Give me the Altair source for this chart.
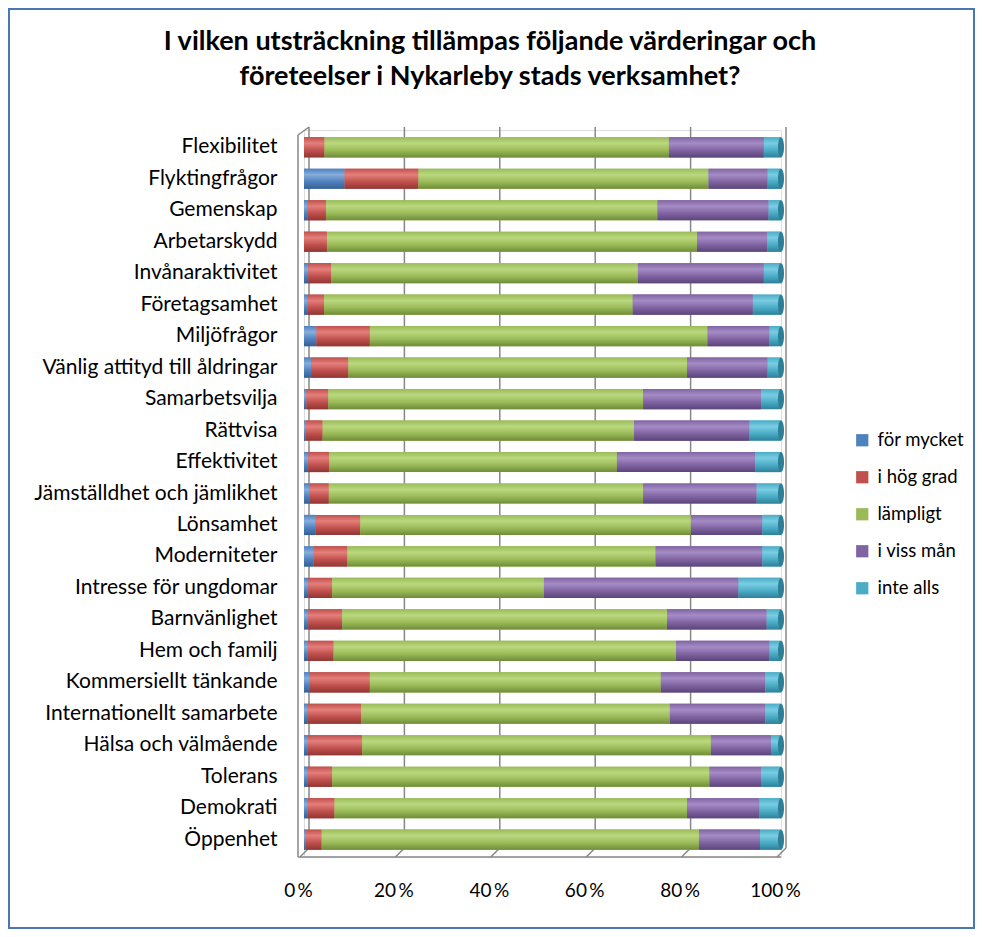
import altair as alt
import pandas as pd

categories = [
    "Flexibilitet", "Flyktingfrågor", "Gemenskap", "Arbetarskydd",
    "Invånaraktivitet", "Företagsamhet", "Miljöfrågor",
    "Vänlig attityd till åldringar", "Samarbetsvilja", "Rättvisa",
    "Effektivitet", "Jämställdhet och jämlikhet", "Lönsamhet",
    "Moderniteter", "Intresse för ungdomar", "Barnvänlighet",
    "Hem och familj", "Kommersiellt tänkande", "Internationellt samarbete",
    "Hälsa och välmående", "Tolerans", "Demokrati", "Öppenhet",
]
responses = ["för mycket", "i hög grad", "lämpligt", "i viss mån", "inte alls"]

for_mycket = [0.0, 8.5, 0.7, 0.0, 0.9, 0.8, 2.6, 1.5, 0.5, 0.3, 0.9, 1.2,
              2.4, 2.0, 0.9, 0.9, 0.8, 1.2, 0.7, 0.8, 0.8, 0.8, 0.3]
i_hog_grad = [4.3, 15.5, 3.9, 4.8, 4.8, 3.4, 11.2, 7.8, 4.6, 3.6, 4.4, 4.0,
              9.4, 7.1, 5.0, 7.1, 5.4, 12.6, 11.3, 11.4, 5.1, 5.6, 3.4]
lampligt = [72.2, 60.8, 69.5, 77.6, 64.3, 64.7, 70.8, 71.0, 66.0, 65.3, 60.3,
            65.9, 69.3, 64.6, 44.4, 68.1, 71.8, 61.0, 64.7, 73.1, 79.1, 73.9, 79.1]
i_viss_man = [19.9, 12.4, 23.3, 14.7, 26.4, 25.2, 13.0, 16.9, 24.7, 24.2, 29.0,
              23.8, 15.0, 22.4, 40.8, 20.9, 19.6, 21.9, 20.0, 12.6, 10.8, 15.2, 12.8]
inte_alls = [3.6, 2.8, 2.6, 2.9, 3.6, 5.9, 2.4, 2.8, 4.2, 6.6, 5.4, 5.1,
             3.9, 3.9, 8.9, 3.0, 2.4, 3.3, 3.3, 2.1, 4.2, 4.5, 4.4]

tick_values = [0, 20, 40, 60, 80, 100]
title_lines = ["I vilken utsträckning tillämpas följande värderingar och",
               "företeelser i Nykarleby stads verksamhet?"]

base_colors = ["#4F81BD", "#C0504D", "#9BBB59", "#8064A2", "#4BACC6"]
light_colors = ["#86ADDE", "#E47F7B", "#BAD87E", "#A58CC6", "#7ACDE2"]
dark_colors = ["#355F93", "#913633", "#6F8C38", "#5B4579", "#2E8199"]

series = [for_mycket, i_hog_grad, lampligt, i_viss_man, inte_alls]
rows = []
for ri, (resp, vals) in enumerate(zip(responses, series)):
    for ci, cat in enumerate(categories):
        rows.append({"kategori": cat, "svar": resp, "ordning": ri, "varde": vals[ci]})
df = pd.DataFrame(rows)
ticks_df = pd.DataFrame({"t": tick_values})
cat_df = pd.DataFrame({"kategori": categories, "slut": [100] * len(categories)})
one_df = pd.DataFrame({"t": [0]})

W, H = 477, 727
GRID = "#878787"
FONT = "Lato"

xscale = alt.Scale(domain=[0, 100], nice=False, zero=True)
yscale = alt.Scale(domain=categories, paddingInner=0.36, paddingOuter=0.23)

x_axis = alt.Axis(title=None, values=tick_values, grid=False, domain=False,
                  ticks=False, labelPadding=24, labelFont=FONT, labelFlush=False,
                  labelFontSize=19, labelColor="#000000", labelOffset=-6,
                  labelExpr="datum.value + '\u2009%'")
y_axis = alt.Axis(title=None, domain=False, ticks=False, labelPadding=27,
                  labelFont=FONT, labelFontSize=21, labelColor="#000000",
                  labelLimit=400)

# Background frame of the 3D plot
back_grid = alt.Chart(ticks_df).mark_rule(color=GRID, strokeWidth=1.5, xOffset=5).encode(
    x=alt.X("t:Q", scale=xscale, axis=x_axis),
    y=alt.value(-3), y2=alt.value(H - 9),
)
floor_diag = alt.Chart(ticks_df).mark_rule(color=GRID, strokeWidth=1.5, xOffset=-4, x2Offset=5).encode(
    x=alt.X("t:Q", scale=xscale), x2="t:Q",
    y=alt.value(H), y2=alt.value(H - 9),
)
front_left = alt.Chart(one_df).mark_rule(
    color=GRID, strokeWidth=1.5, xOffset=-6, x2Offset=5
).encode(
    x=alt.X("t:Q", scale=xscale), x2="t:Q",
    y=alt.value(5), y2=alt.value(-3),
)
front_left_v = alt.Chart(one_df).mark_rule(
    color=GRID, strokeWidth=1.5, xOffset=-6
).encode(
    x=alt.X("t:Q", scale=xscale),
    y=alt.value(5), y2=alt.value(H),
)
front_floor = alt.Chart(one_df).mark_rule(
    color=GRID, strokeWidth=1.5, xOffset=-6
).encode(
    x=alt.X("t:Q", scale=xscale),
    x2=alt.datum(100),
    y=alt.value(H),
)

stacked = alt.Chart(df).transform_stack(
    stack="varde", groupby=["kategori"], as_=["x0", "x1"],
    sort=[alt.SortField("ordning", order="ascending")],
)

# Flat base layer (drives the legend)
base_bars = stacked.mark_bar(strokeWidth=0).encode(
    y=alt.Y("kategori:N", scale=yscale, sort=categories, axis=y_axis),
    x=alt.X("x0:Q", scale=xscale),
    x2="x1:Q",
    color=alt.Color("svar:N", scale=alt.Scale(domain=responses, range=base_colors),
                    sort=responses,
                    legend=alt.Legend(title=None, orient="none", legendX=549, legendY=301,
                                      symbolType="square", symbolSize=150,
                                      symbolStrokeWidth=0, labelFont=FONT,
                                      labelFontSize=18.5, labelColor="#000000",
                                      rowPadding=18, labelOffset=6)),
)

# Cylinder-like shading per response
shade_layers = []
for i, resp in enumerate(responses):
    grad = alt.Gradient(
        gradient="linear", x1=0, y1=0, x2=0, y2=1,
        stops=[
            alt.GradientStop(offset=0, color=base_colors[i]),
            alt.GradientStop(offset=0.3, color=light_colors[i]),
            alt.GradientStop(offset=0.65, color=base_colors[i]),
            alt.GradientStop(offset=1, color=dark_colors[i]),
        ],
    )
    layer = stacked.transform_filter(alt.datum.svar == resp).mark_bar(
        color=grad, strokeWidth=0
    ).encode(
        y=alt.Y("kategori:N", scale=yscale, sort=categories),
        x=alt.X("x0:Q", scale=xscale),
        x2="x1:Q",
    )
    shade_layers.append(layer)

cap = alt.Chart(cat_df).mark_point(
    shape="M0,-1 A0.3,1 0 1,1 0,1 A0.3,1 0 1,1 0,-1 Z",
    size=400, filled=True, color="#2C7F96", opacity=1, strokeWidth=0,
).encode(
    y=alt.Y("kategori:N", scale=yscale, sort=categories),
    x=alt.X("slut:Q", scale=xscale),
)

title1 = alt.Chart(one_df).mark_text(
    text=title_lines[0], font=FONT, fontSize=27, fontWeight="bold",
    color="#000000", align="center", baseline="middle",
).encode(x=alt.value(186), y=alt.value(-88))
title2 = alt.Chart(one_df).mark_text(
    text=title_lines[1], font=FONT, fontSize=27, fontWeight="bold",
    color="#000000", align="center", baseline="middle",
).encode(x=alt.value(186), y=alt.value(-53))

border = alt.Chart(one_df).mark_rect(
    fill=None, stroke="#4A77B4", strokeWidth=2
).encode(
    x=alt.value(-295), x2=alt.value(670), y=alt.value(-121), y2=alt.value(798),
)

chart = alt.layer(
    back_grid, floor_diag, front_left, front_left_v, front_floor,
    base_bars, *shade_layers, cap, title1, title2, border,
).properties(
    width=W, height=H,
    padding={"left": 296, "top": 122, "right": 194, "bottom": 72},
    autosize=alt.AutoSizeParams(type="none"),
).configure_view(stroke=None).configure(background="#FFFFFF")

chart.save("out.html", embed_options={"renderer": "svg", "actions": False})
